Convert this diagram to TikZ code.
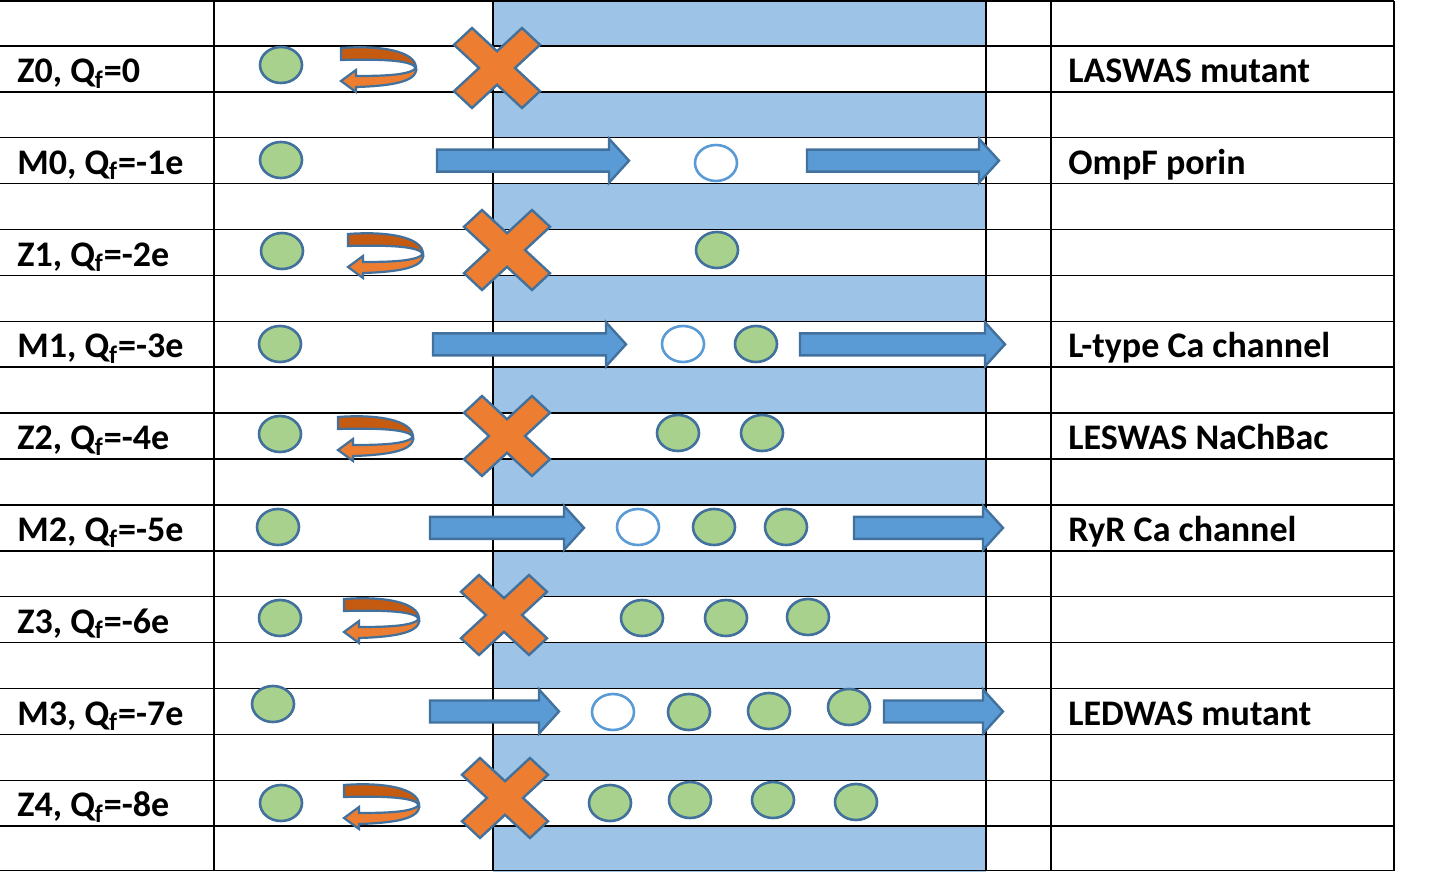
\documentclass[tikz,border=0pt]{standalone}
\usepackage{fontspec}
\setmainfont{Carlito}
\usetikzlibrary{shapes.geometric}
\definecolor{band}{HTML}{9DC3E6}
\definecolor{arrblue}{HTML}{5B9BD5}
\definecolor{bord}{HTML}{41719C}
\definecolor{ionfill}{HTML}{A9D18E}
\definecolor{orng}{HTML}{ED7D31}
\definecolor{dorng}{HTML}{C55A11}
\newcommand{\blockarr}[3]{\draw[barr] (#1,#3-11) -- (#2-20,#3-11) -- (#2-20,#3-22) -- (#2,#3) -- (#2-20,#3+22) -- (#2-20,#3+11) -- (#1,#3+11) -- cycle;}
\tikzset{
  gridline/.style={line width=0.75pt, black},
  ion/.style={ellipse, draw=bord, fill=ionfill, line width=1.3pt, minimum width=21pt, minimum height=18pt, inner sep=0pt},
  hole/.style={ellipse, draw=arrblue, fill=white, line width=1.3pt, minimum width=21pt, minimum height=18pt, inner sep=0pt},
  barr/.style={draw=bord, fill=arrblue, line width=1.2pt, line join=miter},
  lbl/.style={anchor=base west, inner sep=0pt, font=\fontsize{18}{22}\selectfont\bfseries},
  cross/.pic={\draw[draw=bord, fill=orng, line width=1.2pt, line join=miter]
     (0,-16.8) -- (25,-40) -- (43,-23.2) -- (18,0) -- (43,23.2) -- (25,40) -- (0,16.8)
     -- (-25,40) -- (-43,23.2) -- (-18,0) -- (-43,-23.2) -- (-25,-40) -- cycle;},
  uturn/.pic={
     \draw[draw=bord, fill=dorng, line width=1.1pt] (1,3) .. controls (40,0) and (76,6) .. (76,23) .. controls (72,15) and (40,14) .. (1,15) -- cycle;
     \draw[draw=bord, fill=orng, line width=1.1pt, line join=miter] (76,23) .. controls (78,37) and (50,41) .. (16,42) -- (16,47) -- (1,36) -- (16,25) -- (16,31) .. controls (45,31) and (70,30) .. (76,23) -- cycle;}
}
\begin{document}
\begin{tikzpicture}[x=0.5pt,y=-0.5pt]
\useasboundingbox (0,0) rectangle (1453,872);
% blue band
\foreach \k in {0,2,...,18} {
  \fill[band] (493,{45.9*\k}) rectangle (986,{min(45.9*\k+45.9,872)});
}
% grid
\foreach \k in {1,...,18} { \draw[gridline] (0,{45.9*\k}) -- (1394,{45.9*\k}); }
\draw[gridline] (0,1) -- (1394,1);
\draw[gridline] (0,870.5) -- (1394,870.5);
\foreach \xx in {214,493,986,1051,1394} { \draw[gridline] (\xx,1) -- (\xx,870.5); }

% left labels
\node[lbl] (lz0) at (17,82.5) {Z0, Q\textsubscript{f}=0};
\node[lbl] (lm0) at (17,174.3) {M0, Q\textsubscript{f}=-1e};
\node[lbl] (lz1) at (17,266.1) {Z1, Q\textsubscript{f}=-2e};
\node[lbl] (lm1) at (17,357.9) {M1, Q\textsubscript{f}=-3e};
\node[lbl] (lz2) at (17,449.7) {Z2, Q\textsubscript{f}=-4e};
\node[lbl] (lm2) at (17,541.5) {M2, Q\textsubscript{f}=-5e};
\node[lbl] (lz3) at (17,633.3) {Z3, Q\textsubscript{f}=-6e};
\node[lbl] (lm3) at (17,725.1) {M3, Q\textsubscript{f}=-7e};
\node[lbl] (lz4) at (17,816.9) {Z4, Q\textsubscript{f}=-8e};

% right labels
\node[lbl] (r0) at (1068,82.5) {LASWAS mutant};
\node[lbl] (r1) at (1068,174.3) {OmpF porin};
\node[lbl] (r3) at (1068,357.9) {L-type Ca channel};
\node[lbl] (r4) at (1068,449.7) {LESWAS NaChBac};
\node[lbl] (r5) at (1068,541.5) {RyR Ca channel};
\node[lbl] (r7) at (1068,725.1) {LEDWAS mutant};

% left ions
\node[ion] (a0) at (281,65) {};
\node[ion] (a1) at (281,160) {};
\node[ion] (a2) at (282,251) {};
\node[ion] (a3) at (280,344) {};
\node[ion] (a4) at (280,434) {};
\node[ion] (a5) at (278,527) {};
\node[ion] (a6) at (280,618) {};
\node[ion] (a7) at (273,704) {};
\node[ion] (a8) at (281,803) {};

% Z rows: u-turns and crosses
\pic at (340,45) {uturn};
\pic at (347,231) {uturn};
\pic at (337,414) {uturn};
\pic at (343,596) {uturn};
\pic at (343,782) {uturn};
\pic at (497,68) {cross};
\pic at (507,250) {cross};
\pic at (507,436) {cross};
\pic at (504,615) {cross};
\pic at (505,798) {cross};

% ions inside channel, Z rows
\node[ion] (z1a) at (717,250) {};
\node[ion] (z2a) at (678,433) {};
\node[ion] (z2b) at (762,433) {};
\node[ion] (z3a) at (642,618) {};
\node[ion] (z3b) at (726,618) {};
\node[ion] (z3c) at (808,617) {};
\node[ion] (z4a) at (610,803) {};
\node[ion] (z4b) at (690,800) {};
\node[ion] (z4c) at (773,800) {};
\node[ion] (z4d) at (856,802) {};

% M rows: arrows and ions
\blockarr{437}{629}{160.7}
\blockarr{807}{999}{160.7}
\node[hole] (m0h) at (716,163) {};

\blockarr{433}{626}{344.3}
\blockarr{800}{1005}{344.3}
\node[hole] (m1h) at (683,344) {};
\node[ion] (m1a) at (756,344) {};

\blockarr{430}{584}{527.9}
\blockarr{854}{1003}{527.9}
\node[hole] (m2h) at (638,527) {};
\node[ion] (m2a) at (714,527) {};
\node[ion] (m2b) at (786,527) {};

\blockarr{430}{559}{711.5}
\blockarr{884}{1003}{711.5}
\node[hole] (m3h) at (613,712) {};
\node[ion] (m3a) at (689,712) {};
\node[ion] (m3b) at (769,711) {};
\node[ion] (m3c) at (849,707) {};
\end{tikzpicture}
\end{document}
